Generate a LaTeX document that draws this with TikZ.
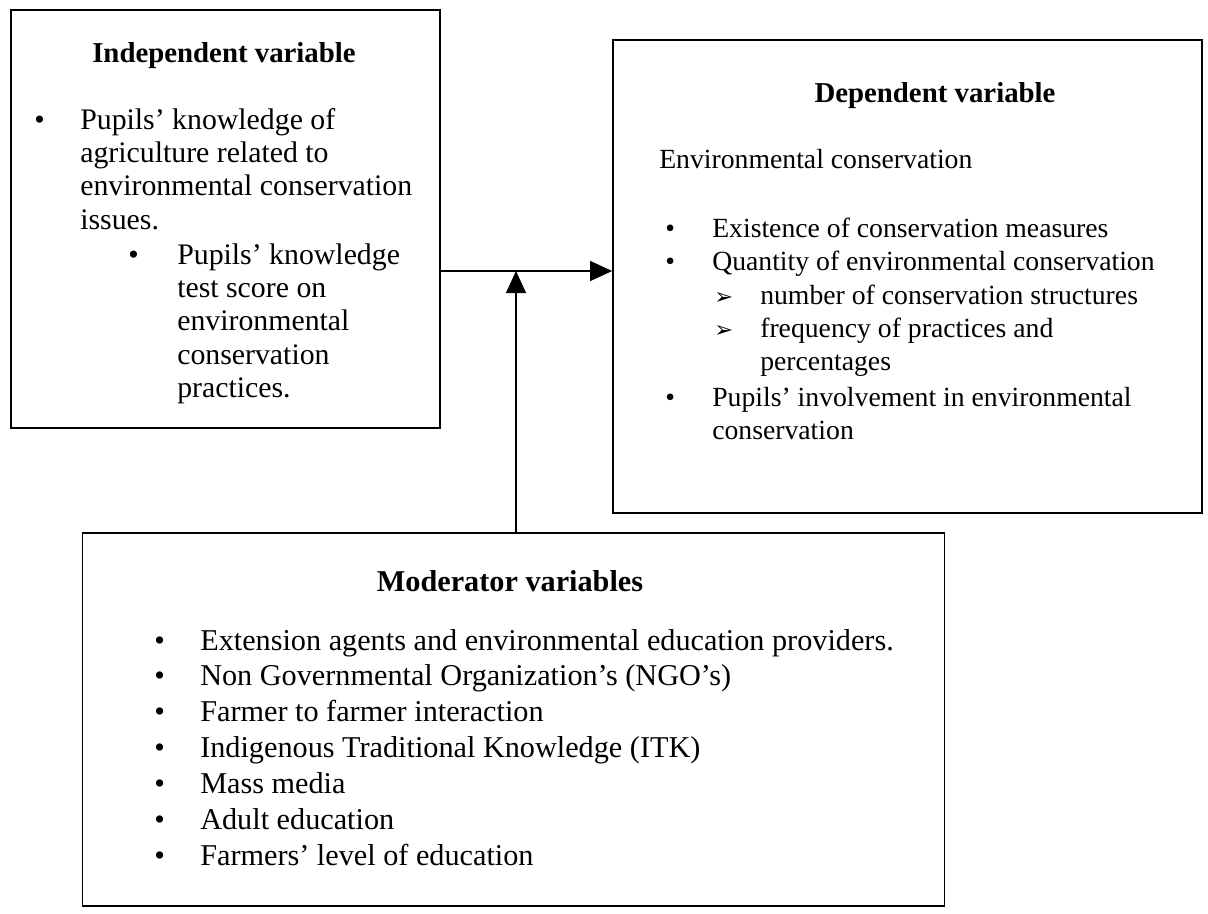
\documentclass[tikz,border=0pt]{standalone}
\usepackage{fontspec}
\setmainfont{Liberation Serif}
\newfontfamily\dingfont{DejaVu Sans}
\usetikzlibrary{arrows.meta}
\newcommand{\arrowbul}{{\dingfont\fontsize{16}{18}\selectfont ➢}}
\newcommand{\lines}[1]{\begin{tabular}[t]{@{}l@{}}#1\end{tabular}}
\begin{document}
\begin{tikzpicture}[x=0.025cm,y=-0.025cm,>={Triangle[length=5.5mm,width=5mm]},
 box/.style={draw,line width=1pt,inner sep=0pt},
 head/.style={font=\fontsize{20.5}{24}\selectfont\bfseries,inner sep=0pt,anchor=base},
 txt/.style={font=\fontsize{19.7}{23.8}\selectfont,inner sep=0pt,anchor=base west},
 indtxt/.style={txt,font=\fontsize{21.2}{23.8}\selectfont},
 modtxt/.style={font=\fontsize{21.5}{25.5}\selectfont,inner sep=0pt,anchor=base west}]
\useasboundingbox (0,0) rectangle (1208,913);
% boxes
\node[box,minimum width=10.73cm,minimum height=10.45cm] (indep) at (225.5,219) {};
\node[box,minimum width=14.73cm,minimum height=11.83cm] (dep) at (907.5,276.5) {};
\node[box,minimum width=21.53cm,minimum height=9.33cm] (moder) at (513.5,719.5) {};
% independent variable
\node[head] (indhead) at (224,63) {Independent variable};
\node[indtxt] (indb1) at (34,129) {\textbullet};
\node[indtxt] (indt1) at (80,129) {\lines{Pupils' knowledge of\\agriculture related to\\environmental conservation\\issues.}};
\node[indtxt] (indb2) at (128,264) {\textbullet};
\node[indtxt] (indt2) at (177,264) {\lines{Pupils' knowledge\\test score on\\environmental\\conservation\\practices.}};
% dependent variable
\node[head] (dephead) at (935,102) {Dependent variable};
\node[txt] (depsub) at (659,168) {Environmental conservation};
\node[txt] (depb1) at (665,237) {\textbullet};
\node[txt] (dept1) at (712,237) {Existence of conservation measures};
\node[txt] (depb2) at (665,270) {\textbullet};
\node[txt] (dept2) at (712,270) {Quantity of environmental conservation};
\node[txt] (depa1) at (714,304) {\arrowbul};
\node[txt] (depu1) at (760,304) {number of conservation structures};
\node[txt] (depa2) at (714,337) {\arrowbul};
\node[txt] (depu2) at (760,337) {\lines{frequency of practices and\\percentages}};
\node[txt] (depb3) at (665,406) {\textbullet};
\node[txt] (dept3) at (712,406) {\lines{Pupils' involvement in environmental\\conservation}};
% moderator variables
\node[head,font=\fontsize{21.5}{25}\selectfont\bfseries] (modhead) at (510,591) {Moderator variables};
\node[modtxt] (modb) at (154,650) {\lines{\textbullet\\\textbullet\\\textbullet\\\textbullet\\\textbullet\\\textbullet\\\textbullet}};
\node[modtxt] (modt) at (200,650) {\lines{Extension agents and environmental education providers.\\
 Non Governmental Organization's (NGO's)\\
 Farmer to farmer interaction\\
 Indigenous Traditional Knowledge (ITK)\\
 Mass media\\
 Adult education\\
 Farmers' level of education}};
% connectors
\coordinate (meet) at (516,271);
\draw[->,line width=0.9pt] (indep.east |- meet) -- (dep.west |- meet);
\draw[->,line width=0.9pt] (moder.north -| meet) -- (meet);
\end{tikzpicture}
\end{document}
